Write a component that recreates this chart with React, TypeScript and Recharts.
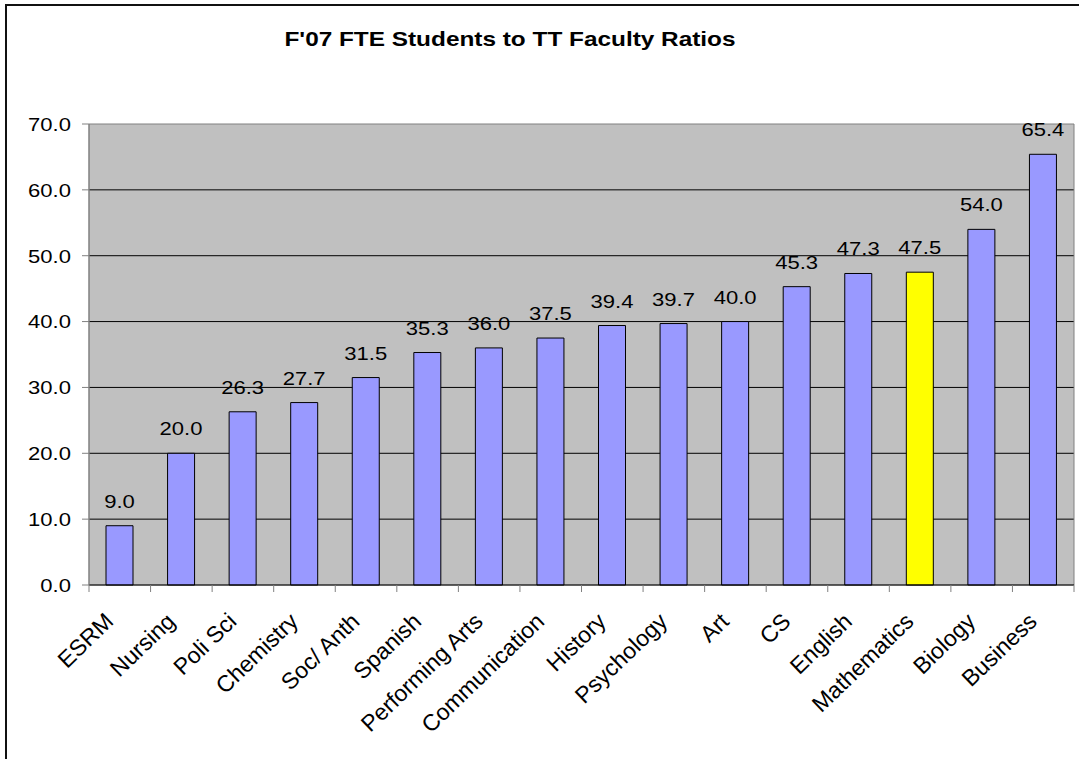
import React from 'react';
import { BarChart, Bar, XAxis, YAxis, CartesianGrid, Cell, LabelList, ReferenceArea } from 'recharts';

const departments = [
  'ESRM', 'Nursing', 'Poli Sci', 'Chemistry', 'Soc/ Anth', 'Spanish', 'Performing Arts', 'Communication',
  'History', 'Psychology', 'Art', 'CS', 'English', 'Mathematics', 'Biology', 'Business',
];
const ratios = [9.0, 20.0, 26.3, 27.7, 31.5, 35.3, 36.0, 37.5, 39.4, 39.7, 40.0, 45.3, 47.3, 47.5, 54.0, 65.4];
const yTicks = [0, 10, 20, 30, 40, 50, 60, 70];
const highlighted = 'Mathematics';

const data = departments.map((name, i) => ({ name, ratio: ratios[i] }));

const FONT = '"Liberation Sans", Arial, sans-serif';
const STRETCH = 1.16; // the source image text is a bit wider than plain Arial
const CHART_W = 1079;
const PLOT_LEFT = 89;
const PLOT_RIGHT_GAP = 5;
const STEP = (CHART_W - PLOT_LEFT - PLOT_RIGHT_GAP) / departments.length;

// category label plus Excel-style tick marks on the category boundaries
function AngledTick(props: any) {
  const { x, y, payload, index } = props;
  const last = index === departments.length - 1;
  return (
    <g>
      <line x1={x - STEP / 2} y1={y} x2={x - STEP / 2} y2={y + 7} stroke="#808080" />
      {last && <line x1={x + STEP / 2} y1={y} x2={x + STEP / 2} y2={y + 7} stroke="#808080" />}
      <g transform={`translate(${x - 5},${y + 38})`}>
        <text x={0} y={0} textAnchor="end" transform="rotate(-44)" fill="#000" fontSize={23} fontFamily={FONT}>
          {payload.value}
        </text>
      </g>
    </g>
  );
}

function ValueTick(props: any) {
  const { x, y, payload } = props;
  return (
    <text
      transform={`translate(${x},${y}) scale(${STRETCH},1)`}
      textAnchor="end"
      dy="0.36em"
      fill="#000"
      fontSize={19}
      fontFamily={FONT}
    >
      {Number(payload.value).toFixed(1)}
    </text>
  );
}

function BarLabel(props: any) {
  const { x, y, width, value } = props;
  return (
    <text
      transform={`translate(${x + width / 2},${y - 18}) scale(${STRETCH},1)`}
      textAnchor="middle"
      fill="#000"
      fontSize={19}
      fontFamily={FONT}
    >
      {Number(value).toFixed(1)}
    </text>
  );
}

export default function App() {
  return (
    <div style={{ position: 'absolute', left: 0, top: 0, width: 1079, height: 759, background: '#fff', overflow: 'hidden' }}>
      <div
        style={{
          position: 'absolute', left: 5, top: 4, width: 1080, height: 760,
          borderLeft: '2px solid #111', borderTop: '2px solid #111',
        }}
      />
      <div
        style={{
          position: 'absolute', left: 0, top: 28, width: 1020, textAlign: 'center',
          fontFamily: FONT, fontWeight: 'bold', fontSize: 21, lineHeight: 1, color: '#000',
          transform: `scaleX(${STRETCH})`, transformOrigin: '510px 0',
        }}
      >
        F'07 FTE Students to TT Faculty Ratios
      </div>
      <div style={{ position: 'absolute', left: 0, top: 0 }}>
        <BarChart
          width={CHART_W}
          height={759}
          data={data}
          margin={{ top: 124, right: PLOT_RIGHT_GAP, left: 0, bottom: 24 }}
          barSize={27}
        >
          <CartesianGrid fill="#C0C0C0" stroke="#000" vertical={false} horizontalValues={[10, 20, 30, 40, 50, 60]} />
          <ReferenceArea y1={0} y2={70} fill="none" stroke="#808080" strokeWidth={1} />
          <XAxis
            dataKey="name"
            interval={0}
            height={150}
            tickSize={0}
            tickMargin={0}
            tickLine={false}
            axisLine={{ stroke: '#000' }}
            tick={<AngledTick />}
          />
          <YAxis
            domain={[0, 70]}
            ticks={yTicks}
            width={PLOT_LEFT}
            tickSize={7}
            tickMargin={11}
            axisLine={{ stroke: '#808080' }}
            tickLine={{ stroke: '#808080' }}
            tick={<ValueTick />}
          />
          <Bar dataKey="ratio" stroke="#000" strokeWidth={1} isAnimationActive={false}>
            {data.map((d) => (
              <Cell key={d.name} fill={d.name === highlighted ? '#FFFF00' : '#9999FF'} />
            ))}
            <LabelList dataKey="ratio" content={<BarLabel />} />
          </Bar>
        </BarChart>
      </div>
    </div>
  );
}
